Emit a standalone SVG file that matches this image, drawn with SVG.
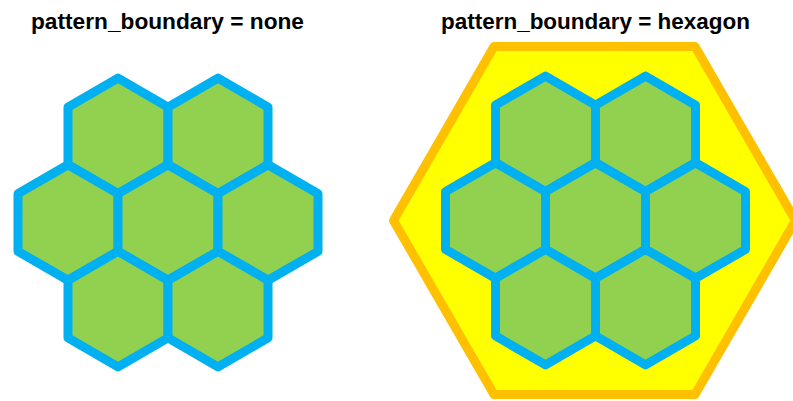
<svg xmlns="http://www.w3.org/2000/svg" xmlns:xlink="http://www.w3.org/1999/xlink" width="793" height="401" viewBox="0 0 793 401">
  <style>
    .title { font-family: "Liberation Sans", Arial, sans-serif; font-weight: bold; font-size: 22px; fill: #000000; }
    .cell { fill: #92D050; stroke: #00B0F0; stroke-width: 9; stroke-linejoin: round; }
    .boundary { fill: #FFFF00; stroke: #FFC000; stroke-width: 9; stroke-linejoin: round; }
  </style>
  <defs>
    <polygon id="hex" points="0,-57.74 50,-28.87 50,28.87 0,57.74 -50,28.87 -50,-28.87"/>
  </defs>
  <rect x="0" y="0" width="793" height="401" fill="#FFFFFF"/>

  <g id="title-none">
    <text class="title" x="31" y="28.5" textLength="273" lengthAdjust="spacingAndGlyphs">pattern_boundary = none</text>
  </g>
  <g id="title-hexagon">
    <text class="title" x="441" y="28.5" textLength="309" lengthAdjust="spacingAndGlyphs">pattern_boundary = hexagon</text>
  </g>

  <g id="cluster-none">
    <use xlink:href="#hex" class="cell" x="118" y="135.9"/>
    <use xlink:href="#hex" class="cell" x="218" y="135.9"/>
    <use xlink:href="#hex" class="cell" x="68" y="222.5"/>
    <use xlink:href="#hex" class="cell" x="168" y="222.5"/>
    <use xlink:href="#hex" class="cell" x="268" y="222.5"/>
    <use xlink:href="#hex" class="cell" x="118" y="309.1"/>
    <use xlink:href="#hex" class="cell" x="218" y="309.1"/>
  </g>

  <g id="boundary-hexagon">
    <polygon class="boundary" points="795.5,220.5 695,46.4 494,46.4 393.5,220.5 494,394.6 695,394.6"/>
  </g>

  <g id="cluster-hexagon">
    <use xlink:href="#hex" class="cell" x="545.5" y="133.9"/>
    <use xlink:href="#hex" class="cell" x="645.5" y="133.9"/>
    <use xlink:href="#hex" class="cell" x="495.5" y="220.5"/>
    <use xlink:href="#hex" class="cell" x="595.5" y="220.5"/>
    <use xlink:href="#hex" class="cell" x="695.5" y="220.5"/>
    <use xlink:href="#hex" class="cell" x="545.5" y="307.1"/>
    <use xlink:href="#hex" class="cell" x="645.5" y="307.1"/>
  </g>

  <g id="connectors"></g>
</svg>
